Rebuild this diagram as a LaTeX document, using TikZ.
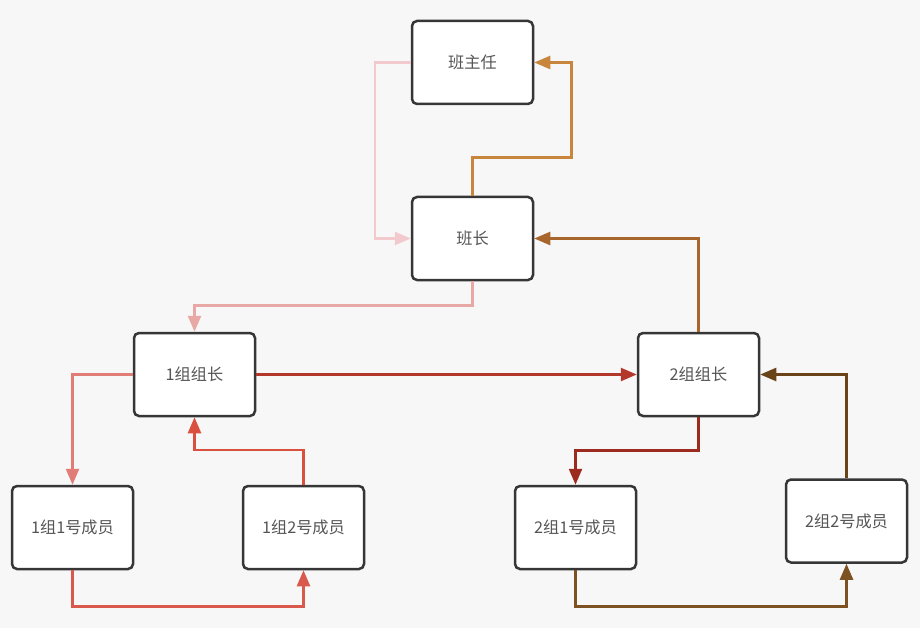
\documentclass[tikz,border=0pt]{standalone}
\usepackage{fontspec}
\setmainfont{Noto Sans CJK SC}
\usetikzlibrary{arrows.meta}
\definecolor{bg}{HTML}{F8F7F7}
\definecolor{boxline}{HTML}{363636}
\definecolor{txt}{HTML}{555555}
\definecolor{cA}{HTML}{F2CACD}
\definecolor{cB}{HTML}{C8863C}
\definecolor{cC}{HTML}{E8A8A6}
\definecolor{cD}{HTML}{A8662C}
\definecolor{cE}{HTML}{B3372B}
\definecolor{cF}{HTML}{E07D77}
\definecolor{cG}{HTML}{D9503E}
\definecolor{cH}{HTML}{D95A4C}
\definecolor{cI}{HTML}{9C2A1E}
\definecolor{cJ}{HTML}{6B4319}
\definecolor{cK}{HTML}{7C5222}
\tikzset{
  box/.style={draw=boxline, line width=2.5pt, fill=white, rounded corners=5pt,
    minimum width=121pt, minimum height=83pt, inner sep=0pt, text=txt,
    font=\fontsize{16.2}{19}\selectfont},
  conn/.style={line width=2.5pt, -{Triangle[length=16pt,width=13pt]}},
}
\begin{document}
\begin{tikzpicture}[x=1pt,y=-1pt]
\fill[bg] (0,0) rectangle (920,628);
\useasboundingbox (0,0) rectangle (920,628);
\node[box] (bzr) at (472.5,62.5) {班主任};
\node[box] (bz) at (472.5,238.5) {班长};
\node[box] (z1) at (194.5,374.5) {1组组长};
\node[box] (z2) at (698.5,374.5) {2组组长};
\node[box] (m11) at (72.5,527.5) {1组1号成员};
\node[box] (m12) at (303.5,527.5) {1组2号成员};
\node[box] (m21) at (575.5,527.5) {2组1号成员};
\node[box] (m22) at (846.5,521) {2组2号成员};
\draw[conn,cA] (bzr.west) -- ++(-36,0) |- (bz.west);
\draw[conn,cB] (bz.north) -- ++(0,-38) -| ([xshift=37pt]bzr.east) -- (bzr.east);
\draw[conn,cC] (bz.south) -- ++(0,24) -| (z1.north);
\draw[conn,cD] (z2.north) |- (bz.east);
\draw[conn,cE] (z1.east) -- (z2.west);
\draw[conn,cF] (z1.west) -| (m11.north);
\draw[conn,cG] (m12.north) -- ++(0,-35) -| (z1.south);
\draw[conn,cH] (m11.south) -- ++(0,36) -| (m12.south);
\draw[conn,cI] (z2.south) -- ++(0,33) -| (m21.north);
\draw[conn,cJ] (m22.north) |- (z2.east);
\draw[conn,cK] (m21.south) -- ++(0,36) -| (m22.south);
\end{tikzpicture}
\end{document}
